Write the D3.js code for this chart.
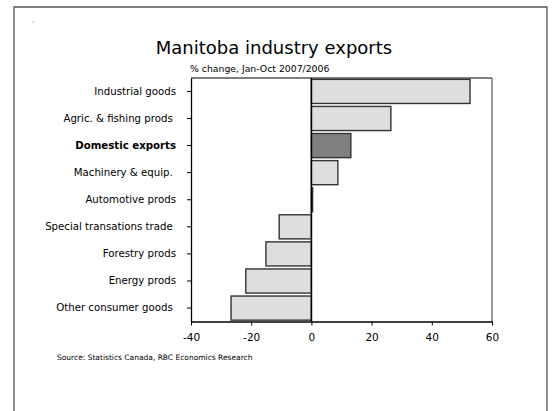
<!DOCTYPE html>
<html>
<head>
<meta charset="utf-8">
<script src="https://cdn.jsdelivr.net/npm/d3@7"></script>
<style>
  html, body { margin: 0; padding: 0; background: #fff; }
  svg { display: block; font-family: "DejaVu Sans", Verdana, sans-serif; }
  .ylab text { white-space: pre; }
</style>
</head>
<body>
<svg id="chart" width="553" height="411"></svg>
<script>
// Manitoba export growth by industry, Jan-Oct 2007 vs 2006 (% change)
const categories = [
  "Industrial goods",
  "Agric. & fishing prods ",
  "Domestic exports",
  "Machinery & equip. ",
  "Automotive prods",
  "Special transations trade ",
  "Forestry prods",
  "Energy prods",
  "Other consumer goods "
];
const values = [52.7, 26.4, 13.1, 8.8, 0.4, -10.7, -15.1, -21.8, -26.7];
const highlight = ["Domestic exports"];
const xTicks = [-40, -20, 0, 20, 40, 60];

const title = "Manitoba industry exports";
const subtitle = "% change, Jan-Oct 2007/2006";
const source = "Source: Statistics Canada, RBC Economics Research";

const svg = d3.select("#chart");
const plot = { left: 191, right: 492, top: 78, bottom: 321.5 };

// outer frame: open at the bottom
svg.append("path")
  .attr("d", `M14,411 V7 H547 V411`)
  .attr("fill", "none")
  .attr("stroke", "#555")
  .attr("stroke-width", 1.3);

svg.append("circle").attr("cx", 33).attr("cy", 22).attr("r", 0.6).attr("fill", "#666");

svg.append("text")
  .attr("x", 274).attr("y", 54)
  .attr("text-anchor", "middle")
  .attr("font-size", 18)
  .attr("fill", "#000")
  .text(title);

svg.append("text")
  .attr("x", 190).attr("y", 72)
  .attr("font-size", 9.3)
  .attr("fill", "#000")
  .text(subtitle);

const x = d3.scaleLinear().domain([-40, 60]).range([plot.left, plot.right]);
const y = d3.scaleBand().domain(categories).range([plot.top, plot.bottom])
  .paddingInner(0.11).paddingOuter(0.05);

// top and right plot border
svg.append("line")
  .attr("x1", plot.left).attr("x2", plot.right)
  .attr("y1", plot.top).attr("y2", plot.top)
  .attr("stroke", "#000").attr("stroke-width", 1);
svg.append("line")
  .attr("x1", plot.right).attr("x2", plot.right)
  .attr("y1", plot.top).attr("y2", plot.bottom)
  .attr("stroke", "#777").attr("stroke-width", 1.5);

// bars
svg.append("g").selectAll("rect")
  .data(categories.map((c, i) => ({ c, v: values[i] })))
  .join("rect")
  .attr("x", d => x(Math.min(0, d.v)))
  .attr("y", d => y(d.c))
  .attr("width", d => Math.abs(x(d.v) - x(0)))
  .attr("height", y.bandwidth())
  .attr("fill", d => highlight.includes(d.c) ? "#808080" : "#dedede")
  .attr("stroke", "#333")
  .attr("stroke-width", 1.4);

// zero line
svg.append("line")
  .attr("x1", x(0)).attr("x2", x(0))
  .attr("y1", plot.top).attr("y2", plot.bottom)
  .attr("stroke", "#000").attr("stroke-width", 1.5);

// y axis
const yAxis = svg.append("g")
  .attr("class", "ylab")
  .attr("transform", `translate(${plot.left},0)`)
  .call(d3.axisLeft(y).tickSize(4).tickPadding(11).tickSizeOuter(0));
yAxis.select(".domain").attr("stroke", "#000").attr("stroke-width", 1.3);
yAxis.selectAll(".tick line").attr("stroke", "#000");
yAxis.selectAll(".tick text")
  .attr("font-family", "DejaVu Sans, sans-serif")
  .attr("font-size", 10.2)
  .attr("fill", "#000")
  .attr("font-weight", d => highlight.includes(d) ? "bold" : "normal");

// x axis
const xAxis = svg.append("g")
  .attr("transform", `translate(0,${plot.bottom})`)
  .call(d3.axisBottom(x).tickValues(xTicks).tickFormat(d => String(d))
    .tickSize(4).tickPadding(8).tickSizeOuter(0));
xAxis.select(".domain").attr("stroke", "#000").attr("stroke-width", 1.5);
xAxis.selectAll(".tick line").attr("stroke", "#000");
xAxis.selectAll(".tick text")
  .attr("font-family", "DejaVu Sans, sans-serif")
  .attr("font-size", 10.5)
  .attr("fill", "#000");

svg.append("text")
  .attr("x", 57).attr("y", 360)
  .attr("font-size", 7.5)
  .attr("fill", "#000")
  .text(source);
</script>
</body>
</html>
